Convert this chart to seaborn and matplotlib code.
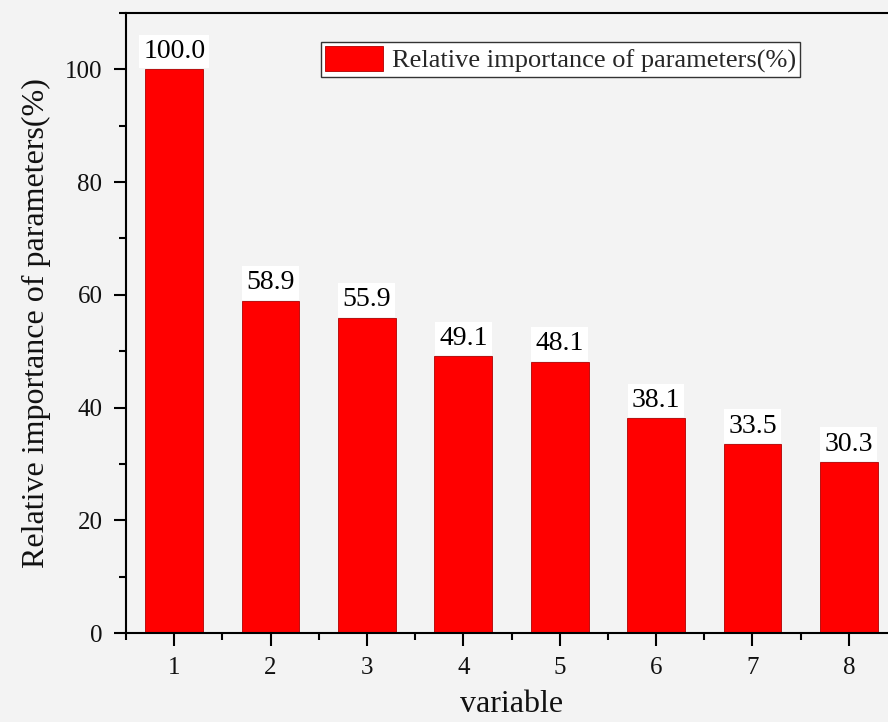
import matplotlib
matplotlib.use("Agg")
import matplotlib.pyplot as plt
import seaborn as sns
import pandas as pd
from matplotlib.ticker import MultipleLocator, FixedLocator

categories = ["1", "2", "3", "4", "5", "6", "7", "8"]
values = [100.0, 58.9, 55.9, 49.1, 48.1, 38.1, 33.5, 30.3]
series_name = "Relative importance of parameters(%)"

df = pd.DataFrame({"variable": categories, "value": values, "series": series_name})

sns.set_theme(style="ticks")
plt.rcParams["font.family"] = ["Liberation Serif", "DejaVu Serif"]

bg = "#f3f3f3"
fig = plt.figure(figsize=(8.88, 7.22), dpi=100, facecolor=bg)
ax = fig.add_axes([126 / 888, 89 / 722, 771 / 888, 620 / 722])
ax.set_facecolor(bg)

sns.barplot(data=df, x="variable", y="value", hue="series", palette=["#ff0000"],
            width=0.6, edgecolor="#b00000", linewidth=0.6, saturation=1, ax=ax)

for c in ax.containers:
    ax.bar_label(c, fmt="%.1f", padding=4, fontsize=20, color="black",
                 bbox=dict(facecolor="white", edgecolor="none", pad=3))

ax.set_xlim(-0.5, 7.5)
ax.set_ylim(0, 110)
ax.yaxis.set_major_locator(MultipleLocator(20))
ax.yaxis.set_minor_locator(MultipleLocator(10))
ax.xaxis.set_minor_locator(FixedLocator([i - 0.5 for i in range(9)]))

for side in ["left", "bottom", "top", "right"]:
    ax.spines[side].set_linewidth(1.5)
    ax.spines[side].set_color("black")

ax.tick_params(axis="both", which="major", direction="out", length=9, width=1.5,
               labelsize=18, color="black", labelcolor="#111111")
ax.tick_params(axis="both", which="minor", direction="out", length=5, width=1.5, color="black")
ax.tick_params(axis="x", which="major", pad=8)
ax.tick_params(axis="y", which="major", pad=8)

ax.set_xlabel("variable", fontsize=23, labelpad=8, color="#111111")
ax.set_ylabel("Relative importance of parameters(%)", fontsize=23, labelpad=10, color="#111111")

leg = ax.legend(loc="upper left", bbox_to_anchor=(0.253, 0.953), borderaxespad=0,
                fontsize=19, frameon=True, fancybox=False, framealpha=1,
                edgecolor="#333333", facecolor="white", handlelength=2.2,
                handleheight=1.1, handletextpad=0.35, borderpad=0.15)
leg.get_frame().set_linewidth(1.0)

fig.savefig("out.png", dpi=100, facecolor=bg)
